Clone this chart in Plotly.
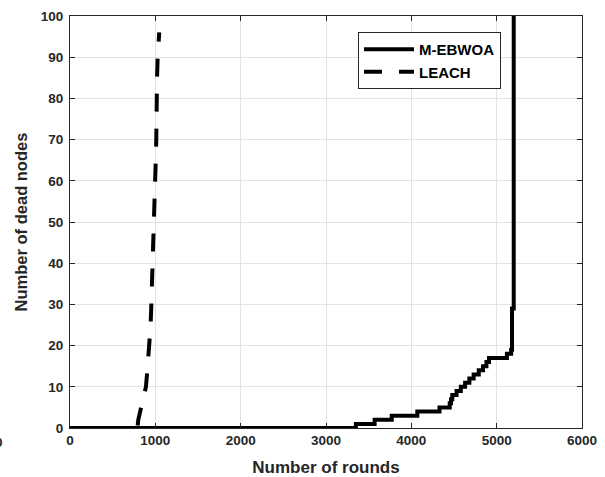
import plotly.graph_objects as go

# M-EBWOA: rounds vs number of dead nodes (step curve)
mebwoa_rounds = [0, 3350, 3570, 3770, 4070, 4330, 4450, 4465, 4480, 4530, 4580, 4630,
                 4680, 4730, 4790, 4840, 4880, 4910, 5080, 5120, 5170, 5180, 5200]
mebwoa_dead = [0, 1, 2, 3, 4, 5, 6, 7, 8, 9, 10, 11,
               12, 13, 14, 15, 16, 17, 17, 18, 19, 29, 100]

# LEACH
leach_rounds = [0, 790, 800, 830, 870, 890, 910, 930, 945, 953, 962, 969, 977,
                984, 992, 1000, 1005, 1011, 1013, 1020, 1027, 1035, 1046]
leach_dead = [0, 0, 2, 5, 8, 10, 15, 20, 25, 30, 35, 40, 45,
              50, 55, 60, 65, 70, 80, 85, 90, 93, 96]

x_ticks = [0, 1000, 2000, 3000, 4000, 5000, 6000]
y_ticks = [0, 10, 20, 30, 40, 50, 60, 70, 80, 90, 100]

FONT = "Liberation Sans, Arial, sans-serif"

fig = go.Figure()
fig.add_trace(go.Scatter(
    x=leach_rounds, y=leach_dead, mode="lines", name="LEACH",
    line=dict(color="black", width=4, dash="18px,17px"),
))
fig.add_trace(go.Scatter(
    x=mebwoa_rounds, y=mebwoa_dead, mode="lines", name="M-EBWOA",
    line=dict(color="black", width=4, shape="hv"),
))

axis_common = dict(
    showline=True, linecolor="#262626", linewidth=1, mirror="ticks",
    ticks="inside", ticklen=5, tickcolor="#262626",
    showgrid=True, gridcolor="#e3e3e3", gridwidth=1,
    zeroline=False, automargin=False,
    tickfont=dict(family=FONT, size=13.5, color="#262626", weight="bold"),
)

fig.update_xaxes(range=[0, 6000], tickvals=x_ticks, ticktext=[str(v) for v in x_ticks],
                 title=dict(text="<b>Number of rounds</b>",
                            font=dict(family=FONT, size=17, color="#262626"), standoff=13),
                 **axis_common)
fig.update_yaxes(range=[0, 100], tickvals=y_ticks, ticktext=[str(v) for v in y_ticks],
                 ticklabelstandoff=3,
                 title=dict(text="<b>Number of dead nodes</b>",
                            font=dict(family=FONT, size=16.5, color="#262626"), standoff=8),
                 **axis_common)

fig.add_annotation(xref="paper", yref="paper", x=-0.1387, y=-0.036,
                   text="<b>0</b>", showarrow=False, xanchor="center", yanchor="middle",
                   font=dict(family=FONT, size=13.5, color="#262626"))

fig.update_layout(
    width=605, height=477,
    margin=dict(l=70, r=23, t=16, b=49, autoexpand=False),
    paper_bgcolor="white", plot_bgcolor="white",
    showlegend=True,
    legend=dict(x=0.5625, y=0.961, xanchor="left", yanchor="top",
                bgcolor="white", bordercolor="#262626", borderwidth=1,
                traceorder="reversed",
                font=dict(family=FONT, size=15, color="black", weight="bold"),
                itemwidth=50, tracegroupgap=0),
)

fig.write_html("out.html")
